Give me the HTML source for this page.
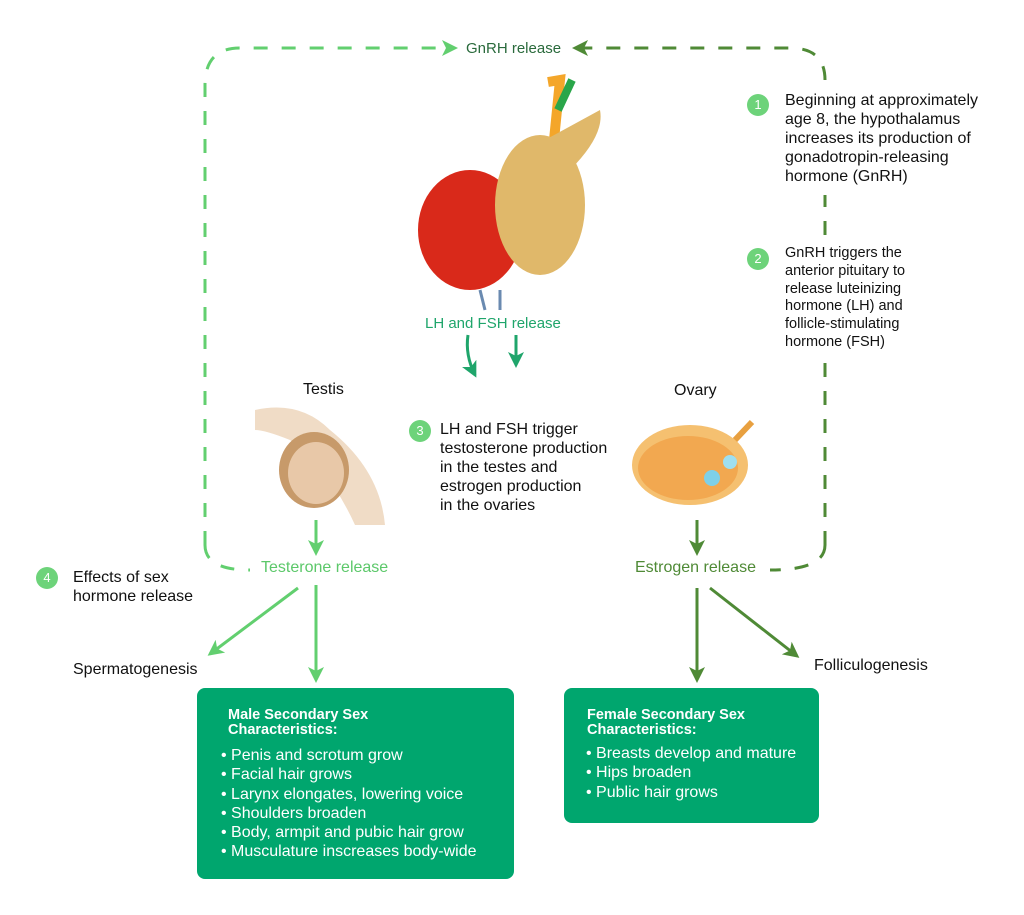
<!DOCTYPE html>
<html><head><style>
body{margin:0;width:1024px;height:915px;background:#fff;font-family:"Liberation Sans",sans-serif;position:relative;overflow:hidden}
.t{position:absolute;font-size:16px;color:#111;line-height:19px}
.num{position:absolute;width:22px;height:22px;border-radius:50%;background:#6dd37a;color:#fff;font-size:13px;text-align:center;line-height:22px}
.box{position:absolute;background:#00a66e;border-radius:8px;color:#fff}
.box h4{margin:0;font-size:14.5px;line-height:15px;font-weight:bold}
.box div{font-size:16px;line-height:19.3px}
</style></head><body>
<svg width="1024" height="915" style="position:absolute;left:0;top:0">
<defs>
<marker id="al" markerWidth="16" markerHeight="16" refX="13" refY="8" orient="auto" markerUnits="userSpaceOnUse"><path d="M0,0 L16,8 L0,16 L4,8z" fill="#62cf6f"/></marker>
<marker id="ad" markerWidth="16" markerHeight="16" refX="13" refY="8" orient="auto" markerUnits="userSpaceOnUse"><path d="M0,0 L16,8 L0,16 L4,8z" fill="#4f8a36"/></marker>
<marker id="am" markerWidth="16" markerHeight="16" refX="13" refY="8" orient="auto" markerUnits="userSpaceOnUse"><path d="M0,0 L16,8 L0,16 L4,8z" fill="#1fa56b"/></marker>
</defs>
<g fill="none" stroke-width="3" stroke-dasharray="14,14">
<path d="M205,545 L205,85 Q205,48 240,48 L455,48" stroke="#62cf6f" marker-end="url(#al)"/>
<path d="M205,545 Q205,570 250,570" stroke="#62cf6f"/>
<path d="M825,545 Q825,570 770,570" stroke="#4f8a36"/>
<path d="M825,545 L825,360" stroke="#4f8a36"/>
<path d="M825,235 L825,195" stroke="#4f8a36"/>
<path d="M825,80 Q825,48 790,48 L575,48" stroke="#4f8a36" marker-end="url(#ad)"/>
</g>
<g stroke-width="3" fill="none">
<path d="M468,335 Q465,355 475,375" stroke="#1fa56b" marker-end="url(#am)"/>
<path d="M516,335 L516,365" stroke="#1fa56b" marker-end="url(#am)"/>
<path d="M316,520 L316,553" stroke="#62cf6f" marker-end="url(#al)"/>
<path d="M298,588 L210,654" stroke="#62cf6f" marker-end="url(#al)"/>
<path d="M316,585 L316,680" stroke="#62cf6f" marker-end="url(#al)"/>
<path d="M697,520 L697,553" stroke="#4f8a36" marker-end="url(#ad)"/>
<path d="M697,588 L697,680" stroke="#4f8a36" marker-end="url(#ad)"/>
<path d="M710,588 L797,656" stroke="#4f8a36" marker-end="url(#ad)"/>
</g>
<!-- pituitary -->
<path d="M548,82 L560,80 L553,150" stroke="#f4a62a" stroke-width="10" fill="none"/>
<path d="M572,80 L558,110" stroke="#2aa64a" stroke-width="8" fill="none"/>
<ellipse cx="470" cy="230" rx="52" ry="60" fill="#d9291a"/>
<ellipse cx="540" cy="205" rx="45" ry="70" fill="#e0b86a"/>
<path d="M545,140 L600,110 Q605,135 570,170z" fill="#e0b86a"/>
<path d="M480,290 L485,310 M500,290 L500,310" stroke="#6a8ab0" stroke-width="3"/>
<!-- testis -->
<path d="M255,410 Q300,400 330,430 Q380,470 385,525 L355,525 Q330,470 290,440 Q265,430 255,430z" fill="#f0dcc6"/>
<ellipse cx="314" cy="470" rx="35" ry="38" fill="#c79a6a"/>
<ellipse cx="316" cy="473" rx="28" ry="31" fill="#e8c8a8"/>
<!-- ovary -->
<ellipse cx="690" cy="465" rx="58" ry="40" fill="#f5c070"/>
<ellipse cx="688" cy="468" rx="50" ry="32" fill="#f2a850"/>
<path d="M735,440 L752,422" stroke="#e8a040" stroke-width="6"/>
<circle cx="712" cy="478" r="8" fill="#7ed0e8"/>
<circle cx="730" cy="462" r="7" fill="#9fdff0"/>
</svg>
<div class="t" style="left:466px;top:39px;color:#2a6a3c;font-size:15px">GnRH release</div>
<div class="t" style="left:425px;top:314px;color:#1fa56b;font-size:15px">LH and FSH release</div>
<div class="num" style="left:747px;top:94px">1</div>
<div class="t" style="left:785px;top:91px">Beginning at approximately<br>age 8, the hypothalamus<br>increases its production of<br>gonadotropin-releasing<br>hormone (GnRH)</div>
<div class="num" style="left:747px;top:248px">2</div>
<div class="t" style="left:785px;top:245px;font-size:14.5px;line-height:17.8px">GnRH triggers the<br>anterior pituitary to<br>release luteinizing<br>hormone (LH) and<br>follicle-stimulating<br>hormone (FSH)</div>
<div class="t" style="left:303px;top:380px">Testis</div>
<div class="t" style="left:674px;top:381px">Ovary</div>
<div class="num" style="left:409px;top:420px">3</div>
<div class="t" style="left:440px;top:420px">LH and FSH trigger<br>testosterone production<br>in the testes and<br>estrogen production<br>in the ovaries</div>
<div class="num" style="left:36px;top:567px">4</div>
<div class="t" style="left:73px;top:568px">Effects of sex<br>hormone release</div>
<div class="t" style="left:261px;top:558px;color:#5cc86a">Testerone release</div>
<div class="t" style="left:635px;top:558px;color:#4f8a36">Estrogen release</div>
<div class="t" style="left:73px;top:660px">Spermatogenesis</div>
<div class="t" style="left:814px;top:656px">Folliculogenesis</div>
<div class="box" style="left:197px;top:688px;width:317px;height:191px">
<div style="position:absolute;left:31px;top:20px"><h4>Male Secondary Sex<br>Characteristics:</h4></div>
<div style="position:absolute;left:24px;top:58px">• Penis and scrotum grow<br>• Facial hair grows<br>• Larynx elongates, lowering voice<br>• Shoulders broaden<br>• Body, armpit and pubic hair grow<br>• Musculature inscreases body-wide</div>
</div>
<div class="box" style="left:564px;top:688px;width:255px;height:135px">
<div style="position:absolute;left:23px;top:20px"><h4>Female Secondary Sex<br>Characteristics:</h4></div>
<div style="position:absolute;left:22px;top:56px">• Breasts develop and mature<br>• Hips broaden<br>• Public hair grows</div>
</div>
</body></html>
